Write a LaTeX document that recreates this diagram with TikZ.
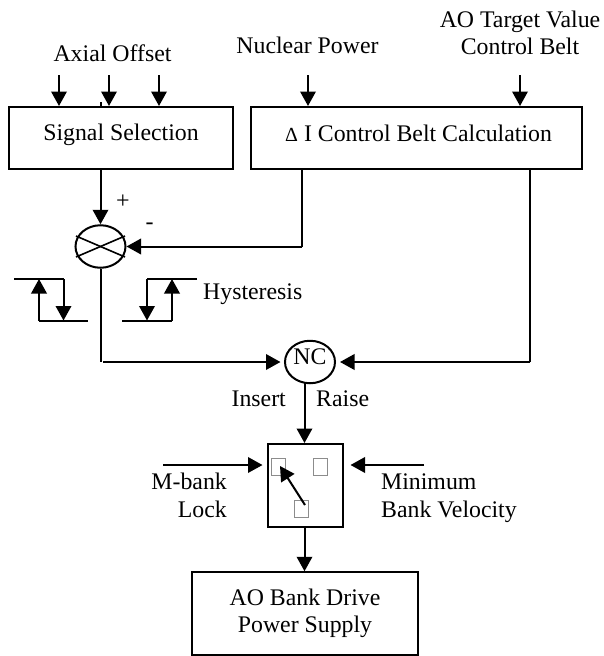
\documentclass[tikz,border=0pt]{standalone}
\usepackage{fontspec}
\setmainfont{Liberation Serif}
\usetikzlibrary{arrows.meta,shapes.geometric}
\tikzset{
  base/.style={line width=2pt,draw=black},
  arr/.style={base,-{Triangle[length=14.5pt,width=15.5pt]}},
  plain/.style={base},
  boxn/.style={draw=black,line width=2pt,rectangle,inner sep=0pt},
  ell/.style={draw=black,line width=2pt,ellipse,inner sep=0pt,minimum width=50pt,minimum height=42.5pt},
  sq/.style={draw=black!45,line width=1pt,rectangle,inner sep=0pt,minimum width=14pt,minimum height=17.5pt},
  txt/.style={inner sep=0pt,anchor=base,yshift=-0.8pt,font=\fontsize{23.8}{27}\selectfont,text=black},
}
\begin{document}
\begin{tikzpicture}[x=1pt,y=-1pt]
\useasboundingbox (0,0) rectangle (603,656);
% boxes
\node[boxn,minimum width=224pt,minimum height=62pt] (sig) at (121,138) {};
\node[boxn,minimum width=331pt,minimum height=62pt] (calc) at (416.5,138) {};
\node[boxn,minimum width=75pt,minimum height=83pt] (sw) at (305,485.5) {};
\node[boxn,minimum width=226pt,minimum height=82.5pt] (drv) at (305,613.5) {};
\node[ell] (sum) at (100.5,246.5) {};
\node[ell] (nc) at (310,362) {};
% squares
\node[sq] (s1) at (278.7,466.8) {};
\node[sq] (s2) at (320.5,466.8) {};
\node[sq] (s3) at (301.5,508.8) {};
% texts
\node[txt] (tsig) at (121,139.5) {Signal Selection};
\node[txt,anchor=base west] (tcalc) at (285,140.5) {{\fontsize{20}{20}\selectfont Δ} I Control Belt Calculation};
\node[txt] (tax) at (112.5,60.7) {Axial Offset};
\node[txt] (tnp) at (307.5,52.7) {Nuclear Power};
\node[txt] (tao) at (520,26.7) {AO Target Value};
\node[txt] (tcb) at (520,53.5) {Control Belt};
\node[inner sep=0pt,font=\fontsize{24}{27}\selectfont] (tplus) at (123,202) {+};
\node[inner sep=0pt,font=\fontsize{24}{27}\selectfont] (tminus) at (149.5,226) {-};
\node[txt,anchor=base west] (thy) at (203,299) {Hysteresis};
\node[txt] (tnc) at (310,363.3) {NC};
\node[txt,anchor=base east] (tin) at (286,405.7) {Insert};
\node[txt,anchor=base west] (tra) at (316,405.7) {Raise};
\node[txt,anchor=base east] (tm) at (227,489) {M-bank};
\node[txt,anchor=base east] (tl) at (227,516.7) {Lock};
\node[txt,anchor=base west] (tmin) at (381,489) {Minimum};
\node[txt,anchor=base west] (tbv) at (381,516.7) {Bank Velocity};
\node[txt] (tdrv) at (305,604.3) {AO Bank Drive};
\node[txt] (tps) at (305,631.7) {Power Supply};
% free ends
\coordinate (i1) at (59,75);
\coordinate (i2) at (109,75);
\coordinate (i3) at (159,75);
\coordinate (i4) at (308,75);
\coordinate (i5) at (520,75);
\coordinate (tick) at (101,102);
\coordinate (sumout) at (100.5,361.5);
\coordinate (mainstart) at (103,362);
\coordinate (mstart) at (163,465);
\coordinate (rstart) at (424,465);
\coordinate (mtip) at (262.5,465);
\coordinate (rtip) at (350.5,465);
\coordinate (ptr) at (305,505);
\coordinate (ptrtip) at (280,466);
\coordinate (minL) at (302,246.5);
\coordinate (ncR) at (530,362);
\coordinate (ncDown) at (304.5,383);
% hysteresis corners
\coordinate (a1) at (14,279);
\coordinate (a2) at (63.5,279);
\coordinate (a3) at (63.5,320.5);
\coordinate (a4) at (39,320.5);
\coordinate (a5) at (88,320.5);
\coordinate (a6) at (39,279);
\coordinate (b1) at (197,279);
\coordinate (b2) at (147,279);
\coordinate (b3) at (147,320.5);
\coordinate (b4) at (122,320.5);
\coordinate (b5) at (172,320.5);
\coordinate (b6) at (172,279);
% inputs
\draw[arr] (i1) -- (i1 |- sig.north);
\draw[arr] (i2) -- (i2 |- sig.north);
\draw[arr] (i3) -- (i3 |- sig.north);
\draw[plain] (tick) -- (tick |- sig.north);
\draw[arr] (i4) -- (i4 |- calc.north);
\draw[arr] (i5) -- (i5 |- calc.north);
% sum
\draw[arr] (sum.north |- sig.south) -- (sum.north);
\draw[plain] (minL |- calc.south) -- (minL);
\draw[arr] (minL) -- (sum.east);
\draw[line width=1.6pt,draw=black] (76,236) -- (125,257);
\draw[line width=1.6pt,draw=black] (76,257) -- (125,236);
\draw[plain] (sum.south) -- (sumout);
% hysteresis
\draw[plain] (a1) -- (a2);
\draw[arr] (a2) -- (a3);
\draw[plain] (a4) -- (a5);
\draw[arr] (a4) -- (a6);
\draw[plain] (b1) -- (b2);
\draw[arr] (b2) -- (b3);
\draw[plain] (b4) -- (b5);
\draw[arr] (b5) -- (b6);
% to NC
\draw[arr,shorten >=3.5pt] (mainstart) -- (nc.west);
\draw[plain] (ncR |- calc.south) -- (ncR);
\draw[arr,shorten >=4pt] (ncR) -- (nc.east);
\draw[arr] (ncDown) -- (ncDown |- sw.north);
% switch
\draw[arr] (mstart) -- (mtip);
\draw[arr] (rstart) -- (rtip);
\draw[arr] (ptr) -- (ptrtip);
\draw[arr] (ncDown |- sw.south) -- (ncDown |- drv.north);
\end{tikzpicture}
\end{document}
